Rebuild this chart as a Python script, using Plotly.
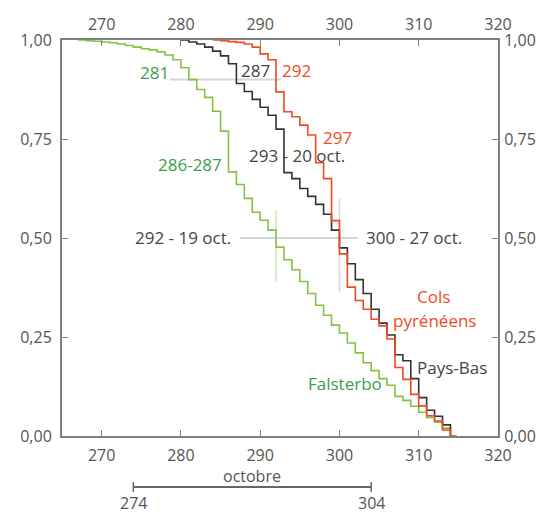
import plotly.graph_objects as go

# ---------------- data ----------------
falsterbo_days = [267, 268, 269, 270, 271, 272, 273, 274, 275, 276, 277, 278, 279, 280,
                  281, 282, 283, 284, 285, 286, 287, 288, 289, 290, 291, 292, 293, 294,
                  295, 296, 297, 298, 299, 300, 301, 302, 303, 304, 305, 306, 307, 308,
                  309, 310, 311, 312, 313, 314, 314.4]
falsterbo_vals = [1.0, 0.998, 0.997, 0.995, 0.993, 0.99, 0.986, 0.982, 0.978, 0.975, 0.97,
                  0.962, 0.95, 0.93, 0.90, 0.875, 0.855, 0.82, 0.77, 0.667, 0.635, 0.60,
                  0.565, 0.545, 0.52, 0.477, 0.445, 0.42, 0.39, 0.36, 0.33, 0.305, 0.28,
                  0.26, 0.235, 0.21, 0.185, 0.165, 0.145, 0.128, 0.10, 0.09, 0.075, 0.06,
                  0.047, 0.035, 0.02, 0.0, 0.0]

paysbas_days = [280, 281, 282, 283, 284, 285, 286, 287, 288, 289, 290, 291, 292, 293,
                294, 295, 296, 297, 298, 299, 300, 301, 302, 303, 304, 305, 306, 307,
                308, 309, 310, 311, 312, 313, 314, 314.3]
paysbas_vals = [1.0, 0.995, 0.99, 0.982, 0.972, 0.96, 0.94, 0.89, 0.87, 0.85, 0.83, 0.81,
                0.775, 0.665, 0.65, 0.625, 0.605, 0.585, 0.56, 0.52, 0.475, 0.435, 0.395,
                0.36, 0.32, 0.285, 0.255, 0.205, 0.19, 0.145, 0.097, 0.065, 0.05, 0.028,
                0.0, 0.0]

pyrenees_days = [284, 285, 286, 287, 288, 289, 290, 291, 292, 293, 294, 295, 296, 297,
                 298, 299, 300, 301, 302, 303, 304, 305, 306, 307, 308, 309, 310, 311,
                 312, 313, 314, 314.8]
pyrenees_vals = [1.0, 0.998, 0.996, 0.994, 0.99, 0.982, 0.965, 0.95, 0.869, 0.819, 0.806,
                 0.785, 0.76, 0.69, 0.65, 0.544, 0.46, 0.376, 0.342, 0.32, 0.295, 0.278,
                 0.245, 0.173, 0.143, 0.105, 0.076, 0.051, 0.038, 0.015, 0.0, 0.0]

x_ticks = [270, 280, 290, 300, 310, 320]
y_ticks = [0, 0.25, 0.5, 0.75, 1.0]
y_tick_text = ["0,00", "0,25", "0,50", "0,75", "1,00"]

# reference lines (quantile 0.90 and median)
q90_level = 0.9
q90_span = [278.6, 292.7]
median_level = 0.5
median_span = [287.4, 302.3]
median_falsterbo = 292
median_falsterbo_span = [0.39, 0.57]
median_pyrenees = 300
median_pyrenees_span = [0.363, 0.60]

month_label = "octobre"
month_start = 274
month_end = 304

# ---------------- style ----------------
GREEN_LINE = "#84c341"
GREEN_TXT = "#3a9f48"
RED = "#ef4a23"
BLACK = "#333333"
DARK_TXT = "#444444"
AXIS = "#808080"
REF = "#d6d6d6"
REF_GREEN = "#cfe8b4"
FONT = "Open Sans"

fig = go.Figure()

# reference lines
fig.add_trace(go.Scatter(x=q90_span, y=[q90_level, q90_level], mode="lines",
                         line=dict(color=REF, width=2), hoverinfo="skip", showlegend=False))
fig.add_trace(go.Scatter(x=median_span, y=[median_level, median_level], mode="lines",
                         line=dict(color=REF, width=2), hoverinfo="skip", showlegend=False))
fig.add_trace(go.Scatter(x=[median_falsterbo, median_falsterbo], y=median_falsterbo_span,
                         mode="lines", line=dict(color=REF_GREEN, width=1.5),
                         hoverinfo="skip", showlegend=False))
fig.add_trace(go.Scatter(x=[median_pyrenees, median_pyrenees], y=median_pyrenees_span,
                         mode="lines", line=dict(color=REF, width=1.5),
                         hoverinfo="skip", showlegend=False))

# curves
fig.add_trace(go.Scatter(x=falsterbo_days, y=falsterbo_vals, mode="lines", name="Falsterbo",
                         line=dict(color=GREEN_LINE, width=1.6, shape="hv"), showlegend=False))
fig.add_trace(go.Scatter(x=paysbas_days, y=paysbas_vals, mode="lines", name="Pays-Bas",
                         line=dict(color=BLACK, width=1.6, shape="hv"), showlegend=False))
fig.add_trace(go.Scatter(x=pyrenees_days, y=pyrenees_vals, mode="lines", name="Cols pyrénéens",
                         line=dict(color=RED, width=1.6, shape="hv"), showlegend=False))

# invisible trace for the mirrored top/right axes
fig.add_trace(go.Scatter(x=[x_ticks[0]], y=[y_ticks[0]], xaxis="x2", yaxis="y2",
                         mode="markers", marker=dict(opacity=0), hoverinfo="skip",
                         showlegend=False))

ann = []
def txt(x, y, s, color, size=17, xanchor="center", xref="x", yref="y"):
    ann.append(dict(x=x, y=y, text=s, showarrow=False, xref=xref, yref=yref,
                    xanchor=xanchor, yanchor="middle",
                    font=dict(family=FONT, size=size, color=color)))

txt(276.7, 0.919, "281", GREEN_TXT)
txt(289.4, 0.924, "287", DARK_TXT)
txt(294.6, 0.924, "292", RED)
txt(299.7, 0.755, "297", RED)
txt(294.6, 0.709, "293 - 20 oct.", DARK_TXT)
txt(281.1, 0.686, "286-287", GREEN_TXT)
txt(280.3, 0.502, "292 - 19 oct.", DARK_TXT)
txt(309.4, 0.502, "300 - 27 oct.", DARK_TXT)
txt(311.9, 0.353, "Cols", RED)
txt(312.0, 0.292, "pyrénéens", RED)
txt(314.2, 0.173, "Pays-Bas", DARK_TXT)
txt(300.7, 0.133, "Falsterbo", GREEN_TXT)

# month bracket under the axis
txt((month_start + month_end) / 2, -0.100, month_label, "#555555", size=16, yref="paper")
txt(month_start, -0.170, str(month_start), "#555555", size=16, yref="paper")
txt(month_end, -0.170, str(month_end), "#555555", size=16, yref="paper")

shapes = [
    dict(type="line", xref="x", yref="paper", x0=month_start, x1=month_end,
         y0=-0.1288, y1=-0.1288, line=dict(color="#666666", width=2)),
    dict(type="line", xref="x", yref="paper", x0=month_start, x1=month_start,
         y0=-0.116, y1=-0.141, line=dict(color="#666666", width=1.5)),
    dict(type="line", xref="x", yref="paper", x0=month_end, x1=month_end,
         y0=-0.116, y1=-0.141, line=dict(color="#666666", width=1.5)),
]

axis_common = dict(showgrid=False, zeroline=False, showline=True, linecolor=AXIS,
                   linewidth=2, ticks="inside", ticklen=6, tickwidth=1.2, tickcolor=AXIS,
                   automargin=False,
                   tickfont=dict(family=FONT, size=16, color="#555555"))

# the page body adds an 8px offset, so the figure is drawn 8px smaller
fig.update_layout(
    width=545, height=508,
    margin=dict(l=54, r=55, t=32, b=80),
    paper_bgcolor="white", plot_bgcolor="white",
    showlegend=False,
    annotations=ann, shapes=shapes,
    xaxis=dict(range=[265, 320], tickvals=x_ticks, ticktext=[str(v) for v in x_ticks],
               ticklabelstandoff=4, **axis_common),
    xaxis2=dict(range=[265, 320], tickvals=x_ticks, ticktext=[str(v) for v in x_ticks],
                overlaying="x", side="top", ticklabelstandoff=2, **axis_common),
    yaxis=dict(range=[0, 1], tickvals=y_ticks, ticktext=y_tick_text,
               ticklabelstandoff=5, **axis_common),
    yaxis2=dict(range=[0, 1], tickvals=y_ticks, ticktext=y_tick_text,
                overlaying="y", side="right", ticklabelstandoff=1, **axis_common),
)

fig.write_html("out.html")
